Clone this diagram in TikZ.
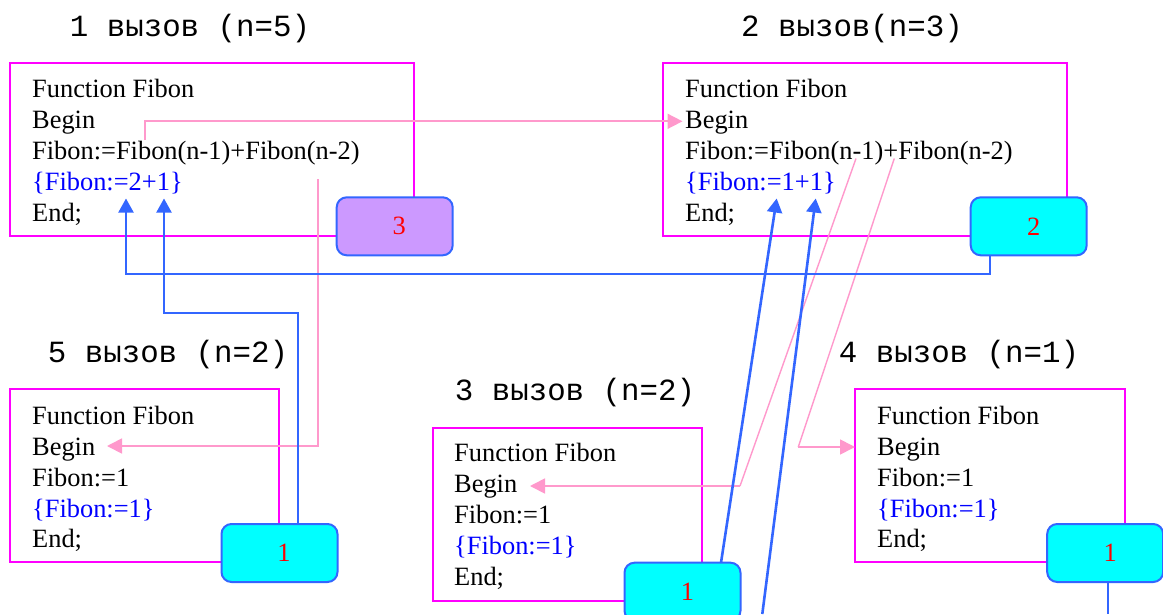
\documentclass[tikz,border=0pt]{standalone}
\usepackage{fontspec}
\setmainfont{Liberation Serif}
\newfontfamily\callfont{Liberation Mono}
\usetikzlibrary{arrows.meta}

\definecolor{framemag}{HTML}{FF00FF}
\definecolor{callpink}{HTML}{FF99CC}
\definecolor{retblue}{HTML}{3366FF}
\definecolor{codeblue}{HTML}{0000FF}
\definecolor{valcyan}{HTML}{00FFFF}
\definecolor{vallilac}{HTML}{CC99FF}
\definecolor{valred}{HTML}{FF0000}

% frames and code at the bottom, links above them, value boxes on top
\pgfdeclarelayer{frames}
\pgfdeclarelayer{links}
\pgfsetlayers{frames,links,main}

% one line of code per node: name-1 ... name-5
\newcommand\listing[4]{%
  \foreach \ln [count=\k] in {#4} {
    \node[codeline] (#1-\k) at (#2, {#3+30.9*(\k-1)}) {\ln};
  }%
}

\begin{document}
\begin{tikzpicture}[x=1pt, y=-1pt,
  frame/.style={draw=framemag, line width=2.2pt, anchor=north west,
    inner sep=0pt, outer sep=0pt},
  codeline/.style={anchor=base west, inner sep=0pt,
    font=\fontsize{26.4}{30.9}\selectfont},
  calltitle/.style={anchor=base, inner sep=0pt,
    font=\callfont\fontsize{30.8}{36}\selectfont},
  valbox/.style={draw=retblue, line width=2pt, rounded corners=10pt,
    minimum width=116pt, minimum height=58pt, inner sep=0pt, outer sep=0pt},
  valtext/.style={inner sep=0pt, text=valred,
    font=\fontsize{26.4}{30.9}\selectfont},
  callline/.style={draw=callpink, line width=1.7pt,
    -{Triangle[length=15pt, width=15pt]}},
  callslant/.style={draw=callpink, line width=1.4pt},
  retline/.style={draw=retblue, line width=2pt,
    -{Triangle[length=14pt, width=15pt]}},
  retslant/.style={draw=retblue, line width=2.6pt,
    -{Triangle[length=14pt, width=15pt]}},
]
\useasboundingbox (0,0) rectangle (1163,614);

\begin{pgfonlayer}{frames}
\fill[white] (0,0) rectangle (1163,614);

% call titles
\node[calltitle] (t1) at (190,36)    {1 вызов (n=5)};
\node[calltitle] (t2) at (852,36)    {2 вызов(n=3)};
\node[calltitle] (t5) at (168,362.7) {5 вызов (n=2)};
\node[calltitle] (t3) at (575,400)   {3 вызов (n=2)};
\node[calltitle] (t4) at (959,362.7) {4 вызов (n=1)};

% frames of the five calls
\node[frame, minimum width=404pt, minimum height=173pt] (tlbox) at (10,63) {};
\node[frame, minimum width=404pt, minimum height=173pt] (trbox) at (663.3,63.3) {};
\node[frame, minimum width=269pt, minimum height=173pt] (blbox) at (10,389) {};
\node[frame, minimum width=269pt, minimum height=173pt] (bmbox) at (432.7,428) {};
\node[frame, minimum width=270pt, minimum height=173pt] (brbox) at (855,389) {};

% code in each frame
\listing{tl}{32}{97.7}{Function Fibon, Begin, Fibon:=Fibon(n-1)+Fibon(n-2),
  {\color{codeblue}\{Fibon:=2+1\}}, End;}
\listing{tr}{685}{97.7}{Function Fibon, Begin, Fibon:=Fibon(n-1)+Fibon(n-2),
  {\color{codeblue}\{Fibon:=1+1\}}, End;}
\listing{bl}{32}{424.3}{Function Fibon, Begin, Fibon:=1,
  {\color{codeblue}\{Fibon:=1\}}, End;}
\listing{bm}{454}{461.7}{Function Fibon, Begin, Fibon:=1,
  {\color{codeblue}\{Fibon:=1\}}, End;}
\listing{br}{877}{424.3}{Function Fibon, Begin, Fibon:=1,
  {\color{codeblue}\{Fibon:=1\}}, End;}
\end{pgfonlayer}

% returned values
\node[valbox, fill=vallilac] (v1) at (394.7,226.3) {};
\node[valbox, fill=valcyan]  (v2) at (1028.7,226.3) {};
\node[valbox, fill=valcyan]  (v5) at (279.5,553) {};
\node[valbox, fill=valcyan]  (v3) at (682.5,591.7) {};
\node[valbox, fill=valcyan]  (v4) at (1105.2,553) {};

\node[valtext] (v1t) at ([xshift=4.6pt]v1.center) {3};
\node[valtext] (v2t) at ([xshift=5pt]v2.center) {2};
\node[valtext] (v5t) at ([xshift=4.5pt]v5.center) {1};
\node[valtext] (v3t) at ([xshift=5pt]v3.center) {1};
\node[valtext] (v4t) at ([xshift=5pt]v4.center) {1};

% points on the code where the links start and end
\coordinate (c1s) at (145,140);
\coordinate (c1e) at (682.5,121.3);
\coordinate (c2s) at (318,179);
\coordinate (c2e) at (107,446);
\coordinate (c3s) at (856,158.5);
\coordinate (c3b) at (740,486);
\coordinate (c3e) at (530,486);
\coordinate (c4s) at (894.3,158.5);
\coordinate (c4b) at (798.3,447);
\coordinate (c4e) at (855,447);

\coordinate (rA) at (126,198.5);
\coordinate (rB) at (164,198.5);
\coordinate (rBbend) at (164,313);
\coordinate (rC) at (776.7,198.5);
\coordinate (rD) at (815.7,198.5);
\coordinate (rDfoot) at (762.3,614);
\coordinate (rEfoot) at (1107.7,614);

\begin{pgfonlayer}{links}
% calls (pink)
\draw[callline] (c1s) |- (c1e);
\draw[callline] (c2s) |- (c2e);
\draw[callslant] (c3s) -- (c3b);
\draw[callline] (c3b) -- (c3e);
\draw[callslant] (c4s) -- (c4b);
\draw[callline] (c4b) -- (c4e);

% returns (blue)
\draw[retline] ([xshift=-38.7pt]v2.south) -- ++(0,18.5) -| (rA);
\draw[retline] ([xshift=18.5pt]v5.north) |- (rBbend) -- (rB);
\draw[retslant] ([xshift=38.5pt]v3.north) -- (rC);
\draw[retslant] (rDfoot) -- (rD);
\draw[draw=retblue, line width=2pt] ([xshift=2.5pt]v4.south) -- (rEfoot);
\end{pgfonlayer}
\end{tikzpicture}
\end{document}
